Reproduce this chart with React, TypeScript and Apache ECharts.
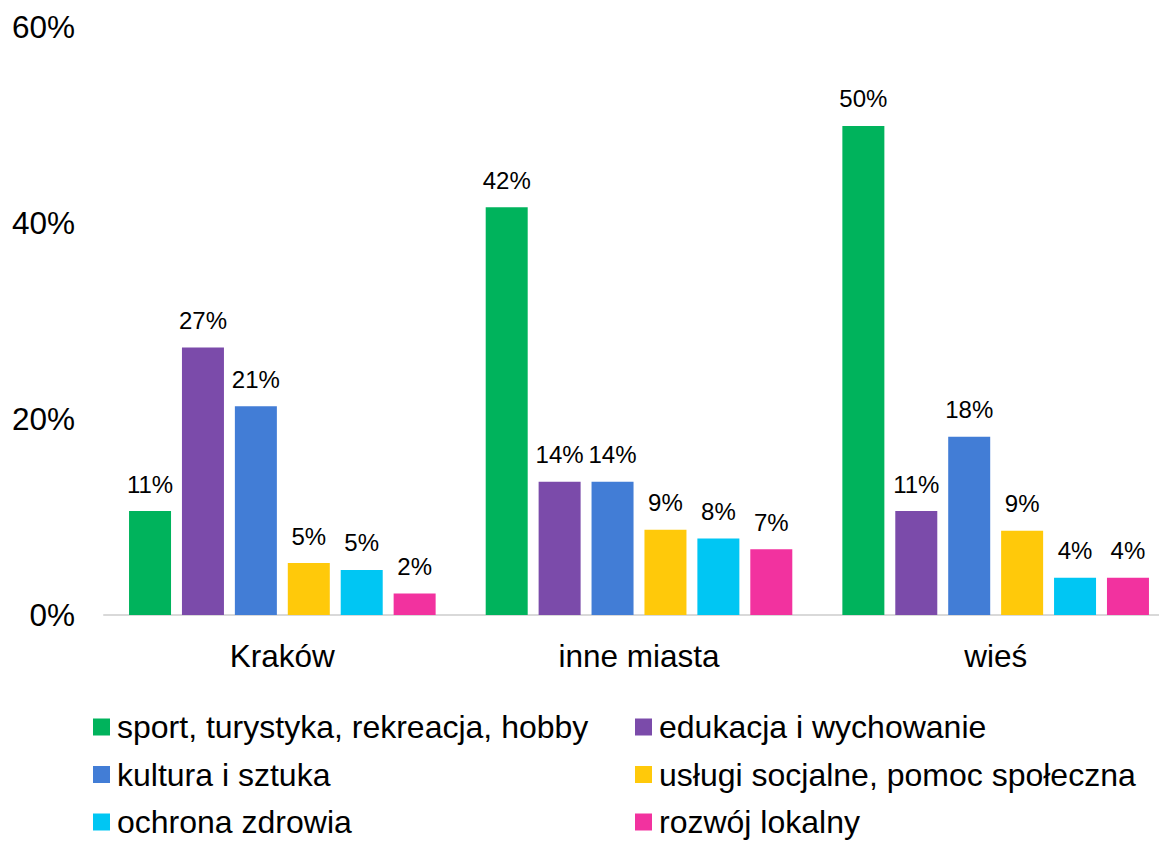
import React, { useEffect, useRef } from "react";
import * as echarts from "echarts";

const categories = ["Kraków", "inne miasta", "wieś"];
const seriesNames = [
  "sport, turystyka, rekreacja, hobby",
  "edukacja i wychowanie",
  "kultura i sztuka",
  "usługi socjalne, pomoc społeczna",
  "ochrona zdrowia",
  "rozwój lokalny",
];
const sport = [10.6, 41.6, 49.9];
const edukacja = [27.3, 13.6, 10.6];
const kultura = [21.3, 13.6, 18.2];
const uslugi = [5.3, 8.7, 8.6];
const ochrona = [4.6, 7.8, 3.8];
const rozwoj = [2.2, 6.7, 3.8];
const seriesValues = [sport, edukacja, kultura, uslugi, ochrona, rozwoj];
const colors = ["#00B35C", "#7B4BAA", "#427DD6", "#FFC90A", "#00C6F3", "#F2329F"];
const yTicks = { min: 0, max: 60, interval: 20 };

const FONT = "'Liberation Sans', Arial, sans-serif";

export default function App() {
  const ref = useRef<HTMLDivElement>(null);
  useEffect(() => {
    if (!ref.current) return;
    const chart = echarts.init(ref.current, null, { renderer: "svg" });
    const legendCommon = {
      orient: "vertical",
      icon: "rect",
      itemWidth: 17,
      itemHeight: 17,
      itemGap: 15.5,
      top: 711,
      padding: 0,
      height: 130,
      textStyle: {
        fontFamily: FONT,
        fontSize: 32,
        color: "#000",
        lineHeight: 32,
        padding: [0, 0, 0, 2],
      },
      selectedMode: false,
    };
    chart.setOption({
      animation: false,
      backgroundColor: "#fff",
      color: colors,
      textStyle: { fontFamily: FONT },
      grid: { left: 104, right: 1, top: 27, bottom: 226, containLabel: false },
      legend: [
        { ...legendCommon, left: 93, data: [seriesNames[0], seriesNames[2], seriesNames[4]] },
        { ...legendCommon, left: 635, data: [seriesNames[1], seriesNames[3], seriesNames[5]] },
      ],
      xAxis: {
        type: "category",
        data: categories,
        axisLine: { show: true, lineStyle: { color: "#D9D9D9", width: 2 } },
        axisTick: { show: false },
        axisLabel: { fontFamily: FONT, fontSize: 31.5, color: "#000", margin: 25 },
      },
      yAxis: {
        type: "value",
        min: yTicks.min,
        max: yTicks.max,
        interval: yTicks.interval,
        splitLine: { show: false },
        axisLine: { show: false },
        axisTick: { show: false },
        axisLabel: {
          fontFamily: FONT,
          fontSize: 31.5,
          color: "#000",
          margin: 29,
          formatter: "{value}%",
        },
      },
      series: seriesValues.map((vals, i) => ({
        name: seriesNames[i],
        type: "bar",
        data: vals,
        barWidth: 42,
        barGap: "26%",
        itemStyle: { color: colors[i] },
        label: {
          show: true,
          position: "top",
          distance: 15,
          fontFamily: FONT,
          fontSize: 24,
          color: "#000",
          formatter: (p: any) => Math.round(p.value) + "%",
        },
      })),
    });
    return () => chart.dispose();
  }, []);
  return (
    <div
      style={{
        position: "absolute",
        left: 0,
        top: 0,
        width: 1159,
        height: 841,
        overflow: "hidden",
      }}
    >
      <div ref={ref} style={{ width: 1175, height: 841 }} />
    </div>
  );
}
